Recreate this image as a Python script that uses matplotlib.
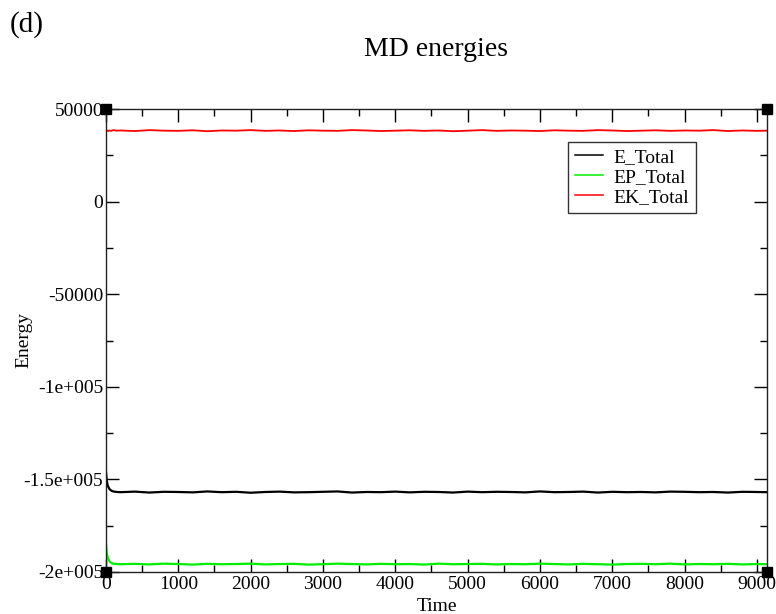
import matplotlib
matplotlib.use('Agg')
import matplotlib.pyplot as plt

plt.rcParams['font.family'] = ['Liberation Serif', 'DejaVu Serif']

# sampled time points (early transient + every 200 afterwards)
t_early = [0, 10, 25, 50, 75, 100, 150]
t_late = list(range(200, 9001, 200)) + [9140]
time = t_early + t_late

e_early = [-146000, -150500, -153500, -155300, -156100, -156500, -156800]
e_late = [-156900, -156600, -157100, -156700, -156800, -157000, -156500, -156900, -156700, -157200,
          -156800, -156600, -157000, -156900, -156700, -156500, -157100, -156800, -156900, -156600,
          -157000, -156700, -156800, -157100, -156600, -156900, -156700, -156800, -157000, -156500,
          -156900, -156800, -156600, -157100, -156700, -156900, -156800, -157000, -156600, -156700,
          -156900, -156800, -157100, -156700, -156800, -156900]

ep_early = [-184800, -189500, -192500, -194300, -195100, -195500, -195700]
ep_late = [-195800, -195600, -195900, -195500, -195700, -196000, -195600, -195800, -195700, -195500,
           -195900, -195700, -195600, -196000, -195800, -195500, -195700, -195900, -195600, -195800,
           -195700, -196000, -195500, -195800, -195700, -195600, -195900, -195700, -195800, -195500,
           -195700, -195900, -195600, -195800, -196000, -195700, -195600, -195800, -195500, -195900,
           -195700, -195800, -195600, -195900, -195700, -195800]

ek_early = [38300, 38500, 38100, 38400, 38200, 38600, 38300]
ek_late = [38400, 38100, 38600, 38300, 38200, 38500, 38000, 38400, 38300, 38600,
           38200, 38400, 38100, 38500, 38300, 38200, 38600, 38400, 38100, 38300,
           38500, 38200, 38400, 38000, 38300, 38600, 38200, 38400, 38300, 38100,
           38500, 38300, 38200, 38600, 38400, 38100, 38300, 38500, 38200, 38400,
           38300, 38600, 38100, 38400, 38200, 38300]

e_total = e_early + e_late
ep_total = ep_early + ep_late
ek_total = ek_early + ek_late

y_ticks = [50000, 0, -50000, -100000, -150000, -200000]
y_labels = ['50000', '0', '-50000', '-1e+005', '-1.5e+005', '-2e+005']
x_ticks = [0, 1000, 2000, 3000, 4000, 5000, 6000, 7000, 8000, 9000]

fig = plt.figure(figsize=(7.76, 6.14), dpi=100)
ax = fig.add_axes([106/776, 1 - 572/614, 661/776, 463/614])

ax.plot(time, e_total, color='black', lw=1.6, label='E_Total')
ax.plot(time, ep_total, color='#00ee00', lw=1.6, label='EP_Total')
ax.plot(time, ek_total, color='red', lw=1.3, label='EK_Total')

ax.set_xticks(x_ticks)
ax.set_xticks([v + 500 for v in x_ticks[:-1]], minor=True)
ax.set_yticks(y_ticks)
ax.set_yticklabels(y_labels)
ax.set_yticks([v - 25000 for v in y_ticks[:-1]], minor=True)
ax.set_xlim(0, 9140)
ax.set_ylim(-200000, 50000)

ax.tick_params(which='both', direction='in', top=True, right=True, labelsize=14, width=1)
ax.tick_params(which='major', length=9.5)
ax.tick_params(which='minor', length=5)
ax.tick_params(axis='y', pad=2)
ax.tick_params(axis='x', pad=3)
for s in ax.spines.values():
    s.set_linewidth(1)
    s.set_color('#222222')

ax.set_xlabel('Time', fontsize=14)
ax.xaxis.set_label_coords(0.5, -0.056)
ax.set_ylabel('Energy', fontsize=14)
ax.yaxis.set_label_coords(-0.112, 0.5)

leg = ax.legend(loc='upper left', bbox_to_anchor=(0.699, 0.929), borderaxespad=0,
                fontsize=14, frameon=True, fancybox=False, edgecolor='black',
                handlelength=1.45, handletextpad=0.55, labelspacing=0.12,
                borderpad=0.35)
leg.get_frame().set_linewidth(1)
for h in leg.get_lines():
    h.set_linewidth(1.1)

# corner markers
ax.plot([0, 1, 0, 1], [0, 0, 1, 1], 's', color='black', ms=6.5,
        transform=ax.transAxes, clip_on=False, zorder=5)
ax.set_xlim(0, 9140)
ax.set_ylim(-200000, 50000)

fig.text(436/776, 1 - 50/614, 'MD energies', ha='center', va='center', fontsize=20)
fig.text(10/776, 1 - 25/614, '(d)', ha='left', va='center', fontsize=21)

fig.savefig('out.png', dpi=100)
